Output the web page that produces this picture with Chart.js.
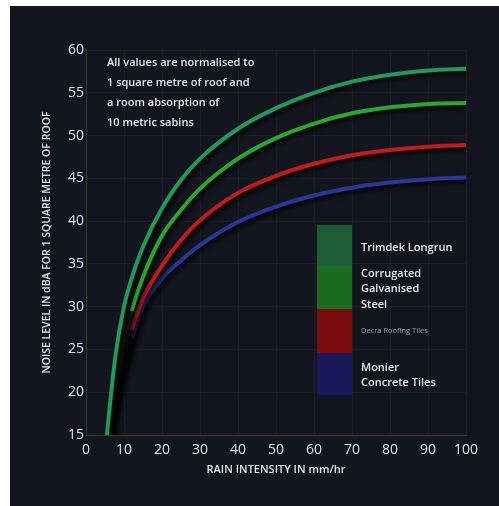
<!DOCTYPE html>
<html>
<head>
<meta charset="utf-8">
<script src="https://cdn.jsdelivr.net/npm/chart.js@4/dist/chart.umd.min.js"></script>
<style>
  html, body { margin: 0; padding: 0; background: #fff; }
  #wrap { width: 499px; height: 506px; }
</style>
</head>
<body>
<div id="wrap"><canvas id="noise" width="499" height="506"></canvas></div>
<script>
// rain intensity in mm/hr
const intensity = [5.5, 7, 8, 10, 12, 15, 20, 25, 30, 40, 50, 60, 70, 80, 90, 100];

// noise level dBA per roof type
const trimdek    = [15, 21.5, 25, 30, 33.3, 37, 41.5, 44.8, 47.3, 50.8, 53.2, 55, 56.3, 57.1, 57.6, 57.8];
const corrugated = [13.5, 18.5, 21.5, 26, 29.5, 33.5, 38.3, 41.3, 43.8, 47.3, 49.7, 51.4, 52.6, 53.3, 53.7, 53.8];
const decra      = [13, 17.5, 20.5, 24.3, 27.3, 31, 34.8, 37.8, 40.1, 43.3, 45.3, 46.7, 47.7, 48.3, 48.7, 48.9];
const monier     = [13, 17, 19.5, 23, 26.3, 30, 33.3, 35.4, 37.2, 39.9, 41.7, 43, 43.9, 44.5, 44.9, 45.1];

const xTicks = [0, 10, 20, 30, 40, 50, 60, 70, 80, 90, 100];
const yTicks = [15, 20, 25, 30, 35, 40, 45, 50, 55, 60];

const note = [
  'All values are normalised to',
  '1 square metre of roof and',
  'a room absorption of',
  '10 metric sabins'
];

const pts = vals => intensity.map((x, i) => ({ x: x, y: vals[i] }));

// darken the low end of a curve where it sits in the shadow
const shaded = (col, dark, below) => ({
  borderColor: ctx => (ctx.p1.parsed.y < below ? dark : col)
});

const series = [
  { label: ['Trimdek Longrun'], data: pts(trimdek), borderColor: '#1f9a5c', box: '#1d5c34', shift: 2.5 },
  { label: ['Corrugated', 'Galvanised', 'Steel'], data: pts(corrugated), borderColor: '#2aa82c',
    segment: shaded('#2aa82c', '#0c1a0e', 30.5), box: '#1b6c1f', shift: 1.5 },
  { label: ['Decra Roofing Tiles'], data: pts(decra), borderColor: '#c51a1c',
    segment: shaded('#c51a1c', '#1c0c0e', 29.5), box: '#7c0b0d', small: true, shift: 0 },
  { label: ['Monier', 'Concrete Tiles'], data: pts(monier), borderColor: '#2b3796',
    segment: shaded('#2b3796', '#0c0e1c', 30), box: '#17195a', shift: 1.5 }
];

const panel = {
  id: 'panel',
  beforeDraw(chart) {
    const c = chart.ctx;
    c.save();
    c.fillStyle = '#ffffff';
    c.fillRect(0, 0, chart.width, chart.height);
    c.fillStyle = '#13161e';
    c.fillRect(10, 6, chart.width - 10, chart.height - 6);
    c.restore();
  },
  beforeDatasetDraw(chart) {
    const c = chart.ctx;
    c.save();
    c.shadowColor = 'rgba(0,0,0,0.95)';
    c.shadowBlur = 5;
    c.shadowOffsetX = 3;
    c.shadowOffsetY = 3;
  },
  afterDatasetDraw(chart) {
    chart.ctx.restore();
  },
  afterDraw(chart) {
    const c = chart.ctx;
    c.save();
    c.textBaseline = 'middle';
    c.fillStyle = '#e6e6ee';
    c.font = '600 11px "Open Sans"';
    note.forEach((t, i) => c.fillText(t, 107, 63 + i * 20));

    // legend blocks
    const top = [225, 266, 309, 353];
    const bottom = [266, 309, 353, 395];
    series.forEach((s, i) => {
      c.fillStyle = s.box;
      c.fillRect(317, top[i], 35, bottom[i] - top[i]);
      const mid = (top[i] + bottom[i]) / 2 + s.shift;
      if (s.small) {
        c.fillStyle = '#9a9aa4';
        c.font = '7.5px "Open Sans"';
      } else {
        c.fillStyle = '#e6e6ee';
        c.font = '600 11px "Open Sans"';
      }
      const lh = 15.5;
      s.label.forEach((t, k) => {
        c.fillText(t, 361, mid + (k - (s.label.length - 1) / 2) * lh);
      });
    });
    c.restore();
  }
};

new Chart(document.getElementById('noise'), {
  type: 'line',
  data: {
    datasets: series.map(s => ({
      label: s.label.join(' '),
      data: s.data,
      borderColor: s.borderColor,
      segment: s.segment,
      borderWidth: 4,
      pointRadius: 0,
      cubicInterpolationMode: 'monotone',
      fill: false
    }))
  },
  options: {
    responsive: false,
    animation: false,
    layout: { padding: { top: 50, right: 33, left: 0, bottom: 0 } },
    plugins: { legend: { display: false }, tooltip: { enabled: false } },
    scales: {
      x: {
        type: 'linear',
        min: 0,
        max: 100,
        afterBuildTicks: axis => { axis.ticks = xTicks.map(v => ({ value: v })); },
        afterFit: axis => { axis.height = 71; },
        ticks: { color: '#e2e2ea', font: { family: 'Open Sans', size: 14 }, padding: 7, maxRotation: 0 },
        grid: { color: 'rgba(255,255,255,0.035)', drawTicks: false },
        border: { color: 'rgba(110,80,50,0.45)' },
        title: {
          display: true,
          text: 'RAIN INTENSITY IN mm/hr',
          color: '#e2e2ea',
          font: { family: 'Open Sans', size: 11, weight: '600' },
          padding: { top: 30, bottom: 30 }
        }
      },
      y: {
        min: 15,
        max: 60,
        afterBuildTicks: axis => { axis.ticks = yTicks.map(v => ({ value: v })); },
        afterFit: axis => { axis.width = 86; },
        ticks: { color: '#e2e2ea', font: { family: 'Open Sans', size: 14 }, padding: 2 },
        grid: { color: 'rgba(255,255,255,0.035)', drawTicks: false },
        border: { color: 'rgba(110,80,50,0.45)' },
        title: {
          display: true,
          text: 'NOISE LEVEL IN dBA FOR 1 SQUARE METRE OF ROOF',
          color: '#e2e2ea',
          font: { family: 'Open Sans', size: 10.5, weight: '600' },
          padding: { top: 41, bottom: 41 }
        }
      }
    }
  },
  plugins: [panel]
});
</script>
</body>
</html>
